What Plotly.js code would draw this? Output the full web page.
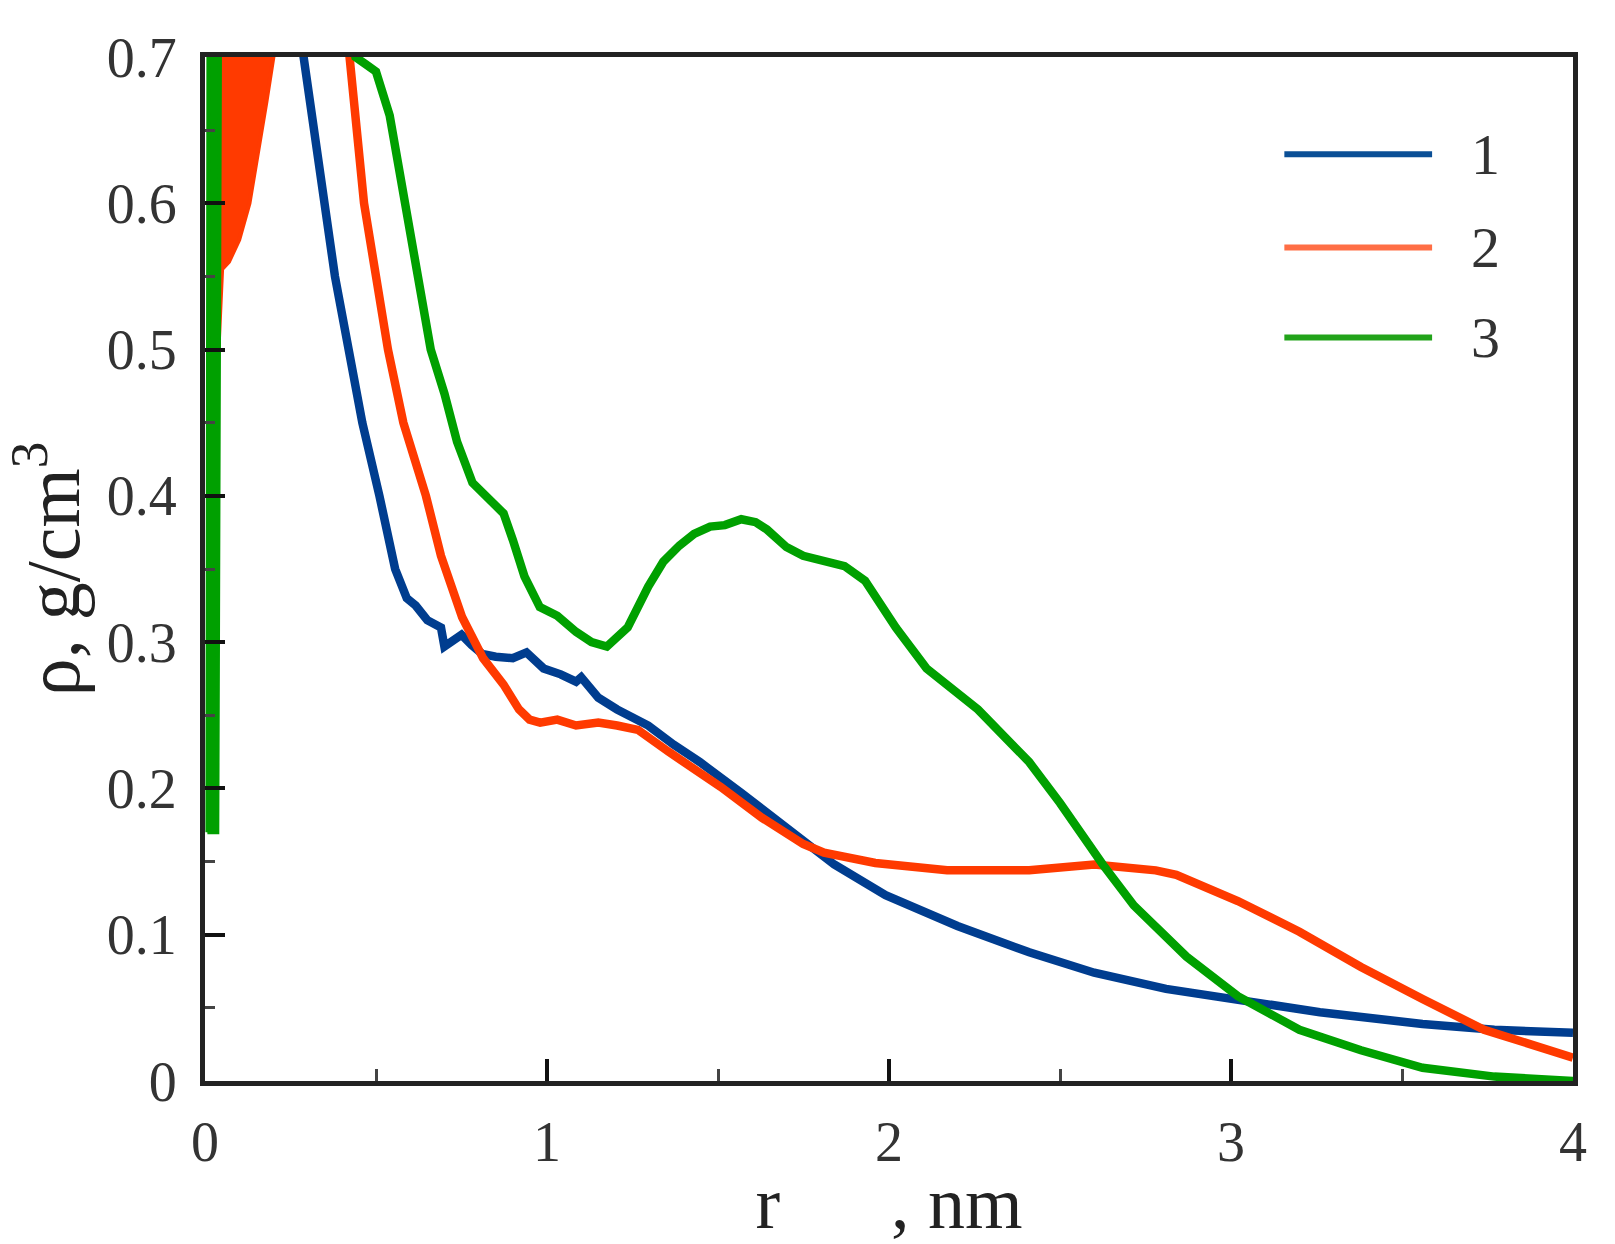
<!DOCTYPE html>
<html>
<head>
<meta charset="utf-8">
<script src="https://cdn.plot.ly/plotly-3.0.1.min.js"></script>
<style>html,body{margin:0;padding:0;background:#fff;}#chart{width:1615px;height:1244px;}</style>
</head>
<body>
<div id="chart"></div>
<script>
// Series 1 (blue)
const r1 = [0.27, 0.30, 0.33, 0.345, 0.38, 0.42, 0.46, 0.51, 0.556, 0.59, 0.616, 0.65, 0.69, 0.70, 0.72, 0.75, 0.78, 0.81, 0.85, 0.90, 0.94, 0.99, 1.04, 1.085, 1.10, 1.15, 1.205, 1.296, 1.37, 1.447, 1.568, 1.65, 1.719, 1.84, 1.99, 2.10, 2.20, 2.41, 2.60, 2.81, 3.02, 3.26, 3.56, 3.77, 4.0];
const rho1 = [0.73, 0.68, 0.63, 0.60, 0.55, 0.50, 0.45, 0.40, 0.35, 0.33, 0.325, 0.315, 0.31, 0.297, 0.30, 0.305, 0.298, 0.292, 0.29, 0.289, 0.293, 0.282, 0.278, 0.273, 0.276, 0.262, 0.254, 0.243, 0.23, 0.218, 0.197, 0.182, 0.169, 0.148, 0.127, 0.116, 0.106, 0.088, 0.074, 0.063, 0.056, 0.047, 0.039, 0.035, 0.033];

// Series 2 (red): noisy band near the origin (outline), then the main curve
const r2a = [0.020, 0.035, 0.045, 0.05, 0.07, 0.10, 0.13, 0.16, 0.18, 0.20, 0.21, 0.02, 0.018];
const rho2a = [0.40, 0.48, 0.54, 0.555, 0.56, 0.575, 0.60, 0.64, 0.67, 0.70, 0.72, 0.72, 0.45];
const r2b = [0.41, 0.44, 0.465, 0.50, 0.535, 0.58, 0.646, 0.69, 0.752, 0.813, 0.873, 0.918, 0.949, 0.98, 1.03, 1.085, 1.15, 1.205, 1.266, 1.356, 1.508, 1.628, 1.749, 1.81, 1.96, 2.17, 2.41, 2.6, 2.78, 2.84, 2.92, 3.02, 3.2, 3.38, 3.56, 3.74, 4.0];
const rho2b = [0.73, 0.66, 0.60, 0.55, 0.50, 0.45, 0.40, 0.359, 0.317, 0.289, 0.271, 0.254, 0.247, 0.245, 0.247, 0.243, 0.245, 0.243, 0.24, 0.225, 0.201, 0.18, 0.162, 0.156, 0.149, 0.144, 0.144, 0.148, 0.144, 0.141, 0.133, 0.123, 0.102, 0.078, 0.056, 0.035, 0.016];

// Series 3 (green): noisy band near the origin (outline), then the main curve
const r3a = [0.007, 0.036, 0.038, 0.040, 0.042, 0.044, 0.010, 0.008, 0.007];
const rho3a = [0.17, 0.17, 0.30, 0.45, 0.60, 0.72, 0.72, 0.45, 0.17];
const r3b = [0.42, 0.44, 0.47, 0.50, 0.54, 0.586, 0.62, 0.66, 0.70, 0.737, 0.782, 0.82, 0.873, 0.90, 0.934, 0.979, 1.03, 1.085, 1.13, 1.175, 1.236, 1.296, 1.34, 1.387, 1.43, 1.477, 1.52, 1.568, 1.61, 1.643, 1.70, 1.749, 1.81, 1.87, 1.93, 2.02, 2.11, 2.26, 2.41, 2.5, 2.625, 2.716, 2.87, 3.02, 3.2, 3.38, 3.56, 3.77, 4.0];
const rho3b = [0.73, 0.70, 0.695, 0.69, 0.66, 0.60, 0.56, 0.50, 0.47, 0.437, 0.409, 0.40, 0.388, 0.37, 0.345, 0.324, 0.318, 0.307, 0.30, 0.297, 0.31, 0.338, 0.355, 0.366, 0.374, 0.379, 0.38, 0.384, 0.382, 0.377, 0.365, 0.359, 0.355, 0.352, 0.342, 0.31, 0.282, 0.254, 0.218, 0.19, 0.148, 0.12, 0.085, 0.058, 0.035, 0.021, 0.009, 0.003, 0.0];

const legendLabels = ['1', '2', '3'];
const colors = ['#003d8f', '#ff3a00', '#00a000'];
const legendColors = ['#0a4f96', '#ff6e45', '#22a31a'];

const serif = 'Liberation Serif, Times New Roman, serif';
const W = 8.5;

const traces = [
  {x: r2a, y: rho2a, mode: 'lines', fill: 'toself', fillcolor: colors[1], line: {color: colors[1], width: 4}},
  {x: r1, y: rho1, mode: 'lines', line: {color: colors[0], width: W}},
  {x: r2b, y: rho2b, mode: 'lines', line: {color: colors[1], width: W}},
  {x: r3a, y: rho3a, mode: 'lines', fill: 'toself', fillcolor: colors[2], line: {color: colors[2], width: 4}},
  {x: r3b, y: rho3b, mode: 'lines', line: {color: colors[2], width: W}}
].map(t => Object.assign(t, {showlegend: false, hoverinfo: 'skip'}));

const legY = [0.905, 0.814, 0.726];
const shapes = legendLabels.map((lab, i) => ({
  type: 'line', xref: 'paper', yref: 'paper',
  x0: 0.789, x1: 0.897, y0: legY[i], y1: legY[i],
  line: {color: legendColors[i], width: 6}
}));
const annotations = legendLabels.map((lab, i) => ({
  xref: 'paper', yref: 'paper', x: 0.936, y: legY[i],
  text: lab, showarrow: false, xanchor: 'center', yanchor: 'middle',
  font: {family: serif, size: 58, color: '#333'}
}));

const layout = {
  width: 1615, height: 1244,
  margin: {l: 205, r: 42, t: 57, b: 163},
  paper_bgcolor: '#fff', plot_bgcolor: '#fff',
  xaxis: {
    range: [0, 4], tickmode: 'linear', tick0: 0, dtick: 1,
    ticks: 'inside', ticklen: 22, tickwidth: 4, tickcolor: '#111',
    minor: {dtick: 0.5, ticks: 'inside', ticklen: 12, tickwidth: 3, tickcolor: '#444'},
    showline: true, linewidth: 5, linecolor: '#222', mirror: true,
    showgrid: false, zeroline: false,
    ticklabelstandoff: 8,
    tickfont: {family: serif, size: 56, color: '#333'},
    title: {text: 'r\u00a0\u00a0\u00a0\u00a0\u00a0\u00a0, nm', font: {family: serif, size: 74, color: '#222'}, standoff: 0}
  },
  yaxis: {
    range: [0, 0.7], tickmode: 'linear', tick0: 0, dtick: 0.1,
    ticks: 'inside', ticklen: 20, tickwidth: 4, tickcolor: '#111',
    minor: {dtick: 0.05, ticks: 'inside', ticklen: 10, tickwidth: 3, tickcolor: '#444'},
    showline: true, linewidth: 5, linecolor: '#222', mirror: true,
    showgrid: false, zeroline: false,
    ticklabelstandoff: 12,
    tickfont: {family: serif, size: 56, color: '#333'},
    title: {text: 'ρ, g/cm<sup>3</sup>', font: {family: serif, size: 76, color: '#222'}, standoff: 8}
  },
  shapes: shapes,
  annotations: annotations
};

Plotly.newPlot('chart', traces, layout, {staticPlot: true, displayModeBar: false});
</script>
</body>
</html>
